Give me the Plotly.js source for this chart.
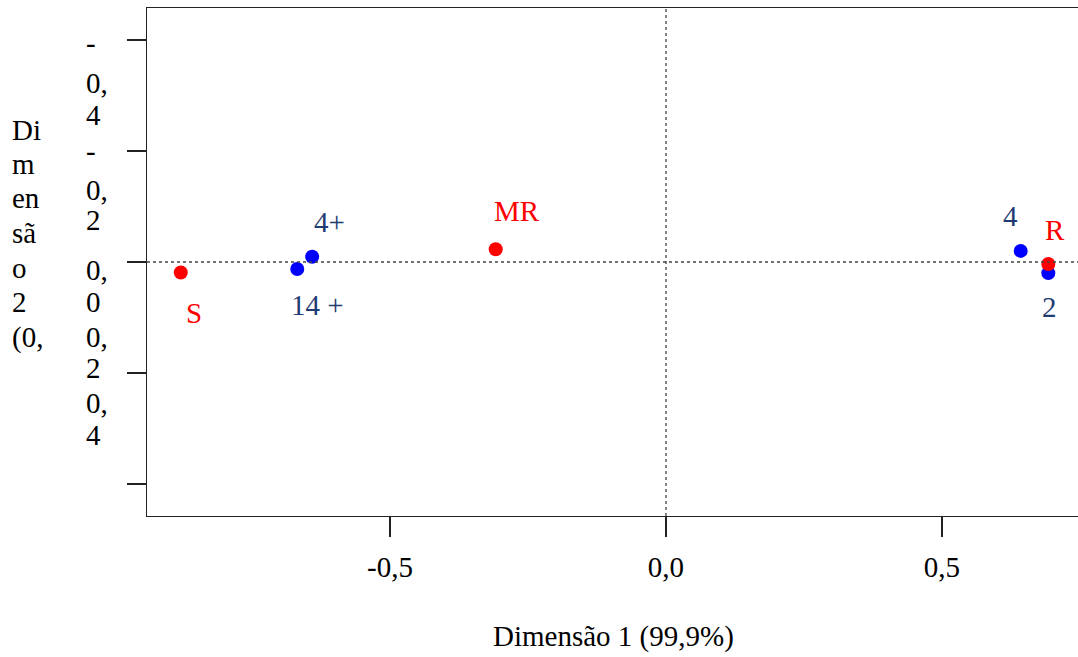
<!DOCTYPE html>
<html>
<head>
<meta charset="utf-8">
<script src="https://cdn.plot.ly/plotly-3.0.1.min.js"></script>
<style>html,body{margin:0;padding:0;background:#fff;}#chart{width:1078px;height:657px;}</style>
</head>
<body>
<div id="chart"></div>
<script>
// ---------- data ----------
const rowLabels = ["S", "MR", "R"];
const rowDim1 = [-0.879, -0.3085, 0.6926];
const rowDim2 = [0.019, -0.023, 0.0036];

const colLabels = ["14 +", "4+", "4", "2"];
const colDim1 = [-0.668, -0.641, 0.6426, 0.6926];
const colDim2 = [0.0126, -0.0095, -0.020, 0.020];

const xTickVals = [-0.5, 0.0, 0.5];
const xTickText = ["-0,5", "0,0", "0,5"];
const yTickVals = [-0.4, -0.2, 0.0, 0.2, 0.4];
// tick labels as they appear (wrapped character lines)
const yTickLines = [["-", "0,", "4"], ["-", "0,", "2"], ["0,", "0"], ["0,", "2"], ["0,", "4"]];

const xTitle = "Dimensão 1 (99,9%)";
const yTitleLines = ["Di", "m", "en", "sã", "o", "2", "(0,"];

// ---------- layout helpers ----------
const W = 1078, H = 657;
const M = {l: 147, r: 0, t: 8, b: 141};
const plotW = W - M.l - M.r, plotH = H - M.t - M.b;
const px2paperX = px => (px - M.l) / plotW;
const px2paperY = py => (M.t + plotH - py) / plotH;

const FONT = "Liberation Serif";
const FS = 29;
const RED = "#ff0000", BLUE = "#0000ff", NAVY = "#1f3c74";

// pixel offsets of labels from their points [dx, dy(up)]
const rowOffsets = [[13, -40], [21, 38], [7, 34]];
const colOffsets = [[20, -36], [17, 35], [-10, 35], [1, -34]];

// y tick label line centres (pixels) and y title line centres
const yTickLineY = [[43, 83, 115], [151, 190, 220], [270, 302], [337, 368], [403, 435]];
const yTitleLineY = [130, 164, 198, 233, 268, 302, 337];

const annotations = [];
rowLabels.forEach((t, i) => annotations.push({
  x: rowDim1[i], y: rowDim2[i], xref: "x", yref: "y", text: t, showarrow: false,
  xshift: rowOffsets[i][0], yshift: rowOffsets[i][1],
  font: {family: FONT, size: FS, color: RED}
}));
colLabels.forEach((t, i) => annotations.push({
  x: colDim1[i], y: colDim2[i], xref: "x", yref: "y", text: t, showarrow: false,
  xshift: colOffsets[i][0], yshift: colOffsets[i][1],
  font: {family: FONT, size: FS, color: NAVY}
}));
yTickLines.forEach((lines, g) => lines.forEach((s, k) => annotations.push({
  x: px2paperX(84), y: px2paperY(yTickLineY[g][k]), xref: "paper", yref: "paper",
  xanchor: "left", yanchor: "middle", text: s, showarrow: false,
  font: {family: FONT, size: FS, color: "#000"}
})));
yTitleLines.forEach((s, k) => annotations.push({
  x: px2paperX(10), y: px2paperY(yTitleLineY[k]), xref: "paper", yref: "paper",
  xanchor: "left", yanchor: "middle", text: s, showarrow: false,
  font: {family: FONT, size: FS, color: "#000"}
}));
annotations.push({
  x: px2paperX(613), y: px2paperY(636), xref: "paper", yref: "paper",
  xanchor: "center", yanchor: "middle", text: xTitle, showarrow: false,
  font: {family: FONT, size: FS, color: "#000"}
});

const xRange = [-0.9402, -0.9402 + plotW / 552];
const yHalf = (plotH / 2) / 555;

const traces = [
  {x: colDim1, y: colDim2, mode: "markers", type: "scatter", cliponaxis: false,
   marker: {color: BLUE, size: 14}, hoverinfo: "skip"},
  {x: rowDim1, y: rowDim2, mode: "markers", type: "scatter", cliponaxis: false,
   marker: {color: RED, size: 14}, hoverinfo: "skip"}
];

const layout = {
  width: W, height: H,
  margin: M,
  paper_bgcolor: "#fff", plot_bgcolor: "#fff",
  showlegend: false,
  font: {family: FONT, size: FS, color: "#000"},
  xaxis: {
    range: xRange, showgrid: false, zeroline: false,
    showline: true, linecolor: "#222", linewidth: 1.3, mirror: true,
    ticks: "outside", ticklen: 20, tickwidth: 1.3, tickcolor: "#222",
    tickmode: "array", tickvals: xTickVals, ticktext: xTickText,
    tickfont: {family: FONT, size: FS, color: "#000"},
    ticklabelstandoff: 5
  },
  yaxis: {
    range: [yHalf, -yHalf], showgrid: false, zeroline: false,
    showline: true, linecolor: "#222", linewidth: 1.3, mirror: false,
    ticks: "outside", ticklen: 19, tickwidth: 1.3, tickcolor: "#222",
    tickmode: "array", tickvals: yTickVals, showticklabels: false
  },
  shapes: [
    {type: "line", xref: "paper", yref: "y", x0: 0, x1: 1, y0: 0, y1: 0,
     line: {color: "#444", width: 1.3, dash: "3px,3px"}},
    {type: "line", xref: "x", yref: "paper", x0: 0, x1: 0, y0: 0, y1: 1,
     line: {color: "#444", width: 1.3, dash: "3px,3px"}}
  ],
  annotations: annotations
};

Plotly.newPlot("chart", traces, layout, {displayModeBar: false, staticPlot: true});
</script>
</body>
</html>
